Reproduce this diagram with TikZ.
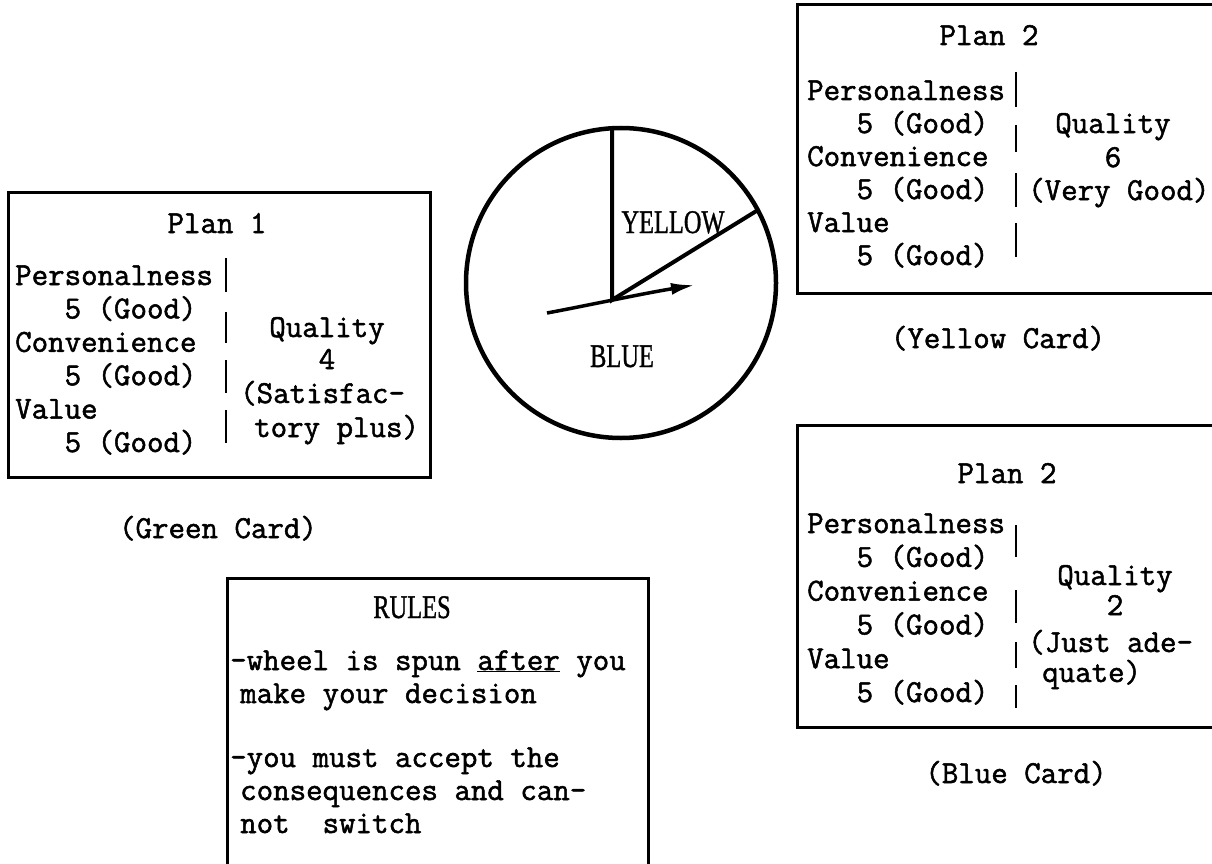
\documentclass[tikz,border=0pt]{standalone}
\usepackage{fontspec}
\newfontfamily\twfam{Latin Modern Mono}[FakeBold=1.6]
\newfontfamily\lblserif{Liberation Serif}[FakeBold=1.2]
\usetikzlibrary{arrows.meta}
\newcommand{\twfont}{\twfam\fontsize{32}{33}\selectfont}
\newcommand{\lblfont}{\lblserif\fontsize{33}{36}\selectfont}
\newcommand{\ind}{\phantom{xxx}}
\tikzset{
  tw/.style={font=\twfont, inner sep=0pt, anchor=base west},
  twc/.style={font=\twfont, inner sep=0pt, anchor=base},
  lbl/.style={font=\lblfont, inner sep=0pt, anchor=base, xscale=0.74},
  card/.style={line width=3pt},
  divider/.style={line width=2.2pt},
  wheel/.style={line width=4.5pt},
  spoke/.style={line width=4pt},
  ptr/.style={line width=3.5pt, -{Latex[length=24pt,width=12pt]}},
}
\begin{document}
\begin{tikzpicture}[x=1pt,y=-1pt]
\clip (0,0) rectangle (1212,864);
\fill[white] (0,0) rectangle (1212,864);

% ---------- Plan 1 (Green card) ----------
\draw[card] (8,192) rectangle (430,477);
\node[twc] (p1title) at (217,233) {Plan 1};
\foreach \t [count=\i from 0] in {Personalness,\ind 5 (Good),Convenience,\ind 5 (Good),Value,\ind 5 (Good)}
  \node[tw] (p1l\i) at (15,{285+33.4*\i}) {\t};
\foreach \a/\b in {258/292,312/343,360/393,410/443}
  \draw[divider] (226,\a) -- (226,\b);
\node[twc] (p1q) at (327,337) {Quality};
\node[twc] (p1n) at (327,369) {4};
\node[tw] (p1d1) at (240,403) {(Satisfac-};
\node[tw] (p1d2) at (254,437) {tory plus)};
\node[twc] (green) at (218,538) {(Green Card)};

% ---------- Wheel ----------
\draw[wheel] (621,283) circle (155);
\draw[spoke] (612,128) -- (612,300) -- (758,210);
\draw[ptr] (547,313) .. controls (590,305) and (640,294) .. (695,285);
\node[lbl] (yellow) at (673,233) {YELLOW};
\node[lbl] (blue) at (622,367) {BLUE};

% ---------- Plan 2 (Yellow card) ----------
\draw[card] (797,5) rectangle (1230,293);
\node[twc] (p2title) at (989,45) {Plan 2};
\foreach \t [count=\i from 0] in {Personalness,\ind 5 (Good),Convenience,\ind 5 (Good),Value,\ind 5 (Good)}
  \node[tw] (p2l\i) at (807,{100+33*\i}) {\t};
\foreach \a/\b in {72/107,125/152,173/207,223/257}
  \draw[divider] (1016,\a) -- (1016,\b);
\node[twc] (p2q) at (1113,133) {Quality};
\node[twc] (p2n) at (1113,167) {6};
\node[tw] (p2d) at (1028,200) {(Very Good)};
\node[twc] (yellowcard) at (998,348) {(Yellow Card)};

% ---------- Plan 2 (Blue card) ----------
\draw[card] (797,425) rectangle (1230,727);
\node[twc] (p3title) at (1007,483) {Plan 2};
\foreach \t [count=\i from 0] in {Personalness,\ind 5 (Good),Convenience,\ind 5 (Good),Value,\ind 5 (Good)}
  \node[tw] (p3l\i) at (807,{533+33.8*\i}) {\t};
\foreach \a/\b in {525/557,590/623,642/668,685/708}
  \draw[divider] (1016,\a) -- (1016,\b);
\node[twc] (p3q) at (1115,585) {Quality};
\node[twc] (p3n) at (1115,615) {2};
\node[tw] (p3d1) at (1028,652) {(Just ade-};
\node[tw] (p3d2) at (1042,682) {quate)};
\node[twc] (bluecard) at (1016,783) {(Blue Card)};

% ---------- Rules ----------
\draw[card] (227,578) rectangle (648,880);
\node[lbl] (rules) at (412,618) {RULES};
\node[tw] (r1) at (230,670) {-wheel is spun \underline{after} you};
\node[tw] (r2) at (240,703) {make your decision};
\node[tw] (r3) at (230,767) {-you must accept the};
\node[tw] (r4) at (240,800) {consequences and can-};
\node[tw] (r5) at (240,833) {not\ \ switch};
\end{tikzpicture}
\end{document}
